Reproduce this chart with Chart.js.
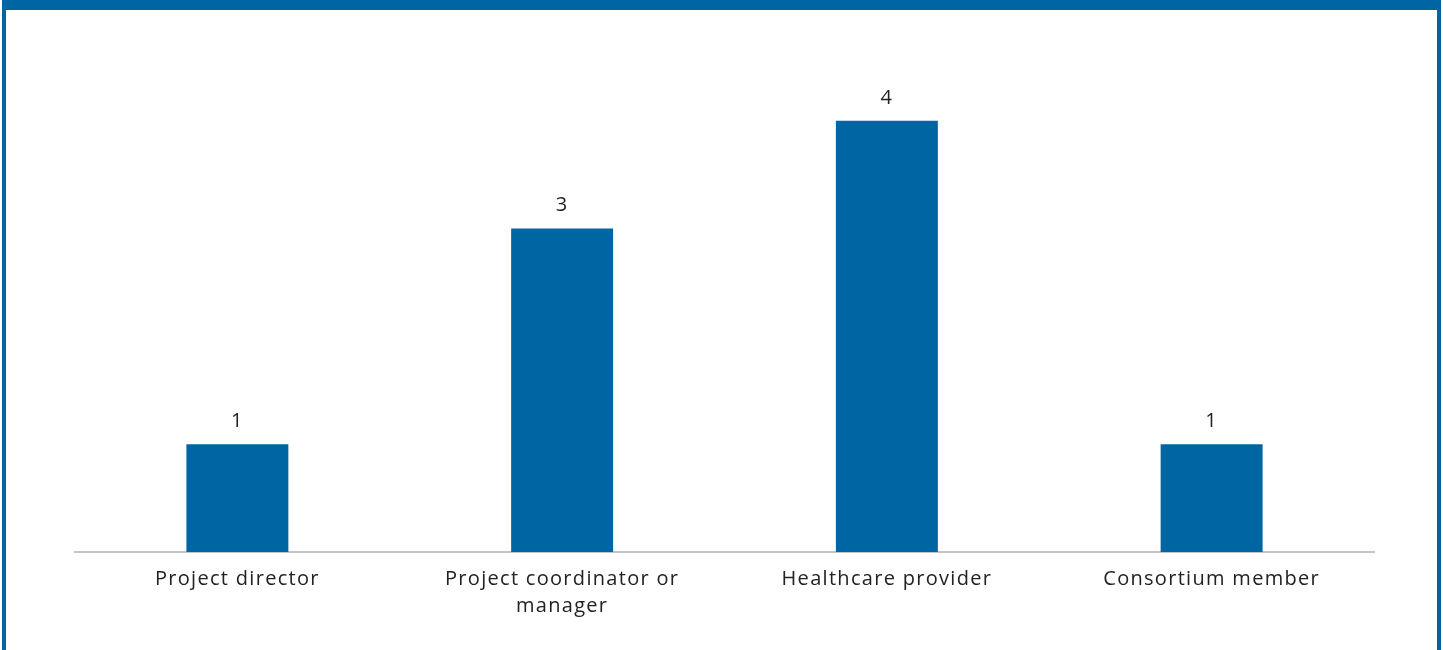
<!DOCTYPE html>
<html>
<head>
<meta charset="utf-8">
<script src="https://cdn.jsdelivr.net/npm/chart.js@4"></script>
<style>
  html, body { margin: 0; padding: 0; background: #fff; }
  #wrap { position: relative; width: 1443px; height: 650px; overflow: hidden; }
  #frame {
    position: absolute; left: 2px; top: 0; width: 1439px; height: 660px;
    box-sizing: border-box;
    border-top: 10px solid #0066a3;
    border-left: 4px solid #0066a3;
    border-right: 4px solid #0066a3;
    pointer-events: none;
  }
  canvas { position: absolute; left: 0; top: 0; }
</style>
</head>
<body>
<div id="wrap">
  <canvas id="myChart" width="1443" height="650"></canvas>
  <div id="frame"></div>
</div>
<script>
const categories = [
  "Project director",
  ["Project coordinator or", "manager"],
  "Healthcare provider",
  "Consortium member",
];
const counts = [1, 3, 4, 1];

const barColor = "#0066a3";
const fontFamily = "'Open Sans', sans-serif";

// 原圖字距較寬，用 canvas letterSpacing 模擬
const spacing = {
  id: "spacing",
  beforeLayout(chart) {
    chart.ctx.letterSpacing = "1.3px";
  },
  beforeDraw(chart) {
    chart.ctx.letterSpacing = "1.3px";
  },
};

// 在長條上方畫數值
const valueLabels = {
  id: "valueLabels",
  afterDatasetsDraw(chart) {
    const ctx = chart.ctx;
    const meta = chart.getDatasetMeta(0);
    ctx.save();
    ctx.fillStyle = "#222";
    ctx.font = "20px " + fontFamily;
    ctx.textAlign = "center";
    ctx.textBaseline = "middle";
    meta.data.forEach((bar, i) => {
      ctx.fillText(String(counts[i]), bar.x, bar.y - 23);
    });
    ctx.restore();
  },
};

const ctx = document.querySelector("#myChart").getContext("2d");
new Chart(ctx, {
  type: "bar",
  data: {
    labels: categories,
    datasets: [
      {
        data: counts,
        backgroundColor: barColor,
        borderWidth: 0,
        barPercentage: 0.314,
        categoryPercentage: 1,
      },
    ],
  },
  options: {
    responsive: false,
    animation: false,
    layout: {
      padding: { left: 75, right: 69, top: 13, bottom: 16 },
    },
    plugins: {
      legend: { display: false },
      tooltip: { enabled: false },
    },
    scales: {
      y: {
        display: false,
        min: 0,
        max: 5,
      },
      x: {
        grid: { display: false, drawTicks: false },
        border: { display: true, color: "#c4c4c4", width: 2 },
        ticks: {
          color: "#222",
          padding: 14,
          maxRotation: 0,
          autoSkip: false,
          font: { family: fontFamily, size: 20, lineHeight: "27px" },
        },
      },
    },
  },
  plugins: [spacing, valueLabels],
});
</script>
</body>
</html>
